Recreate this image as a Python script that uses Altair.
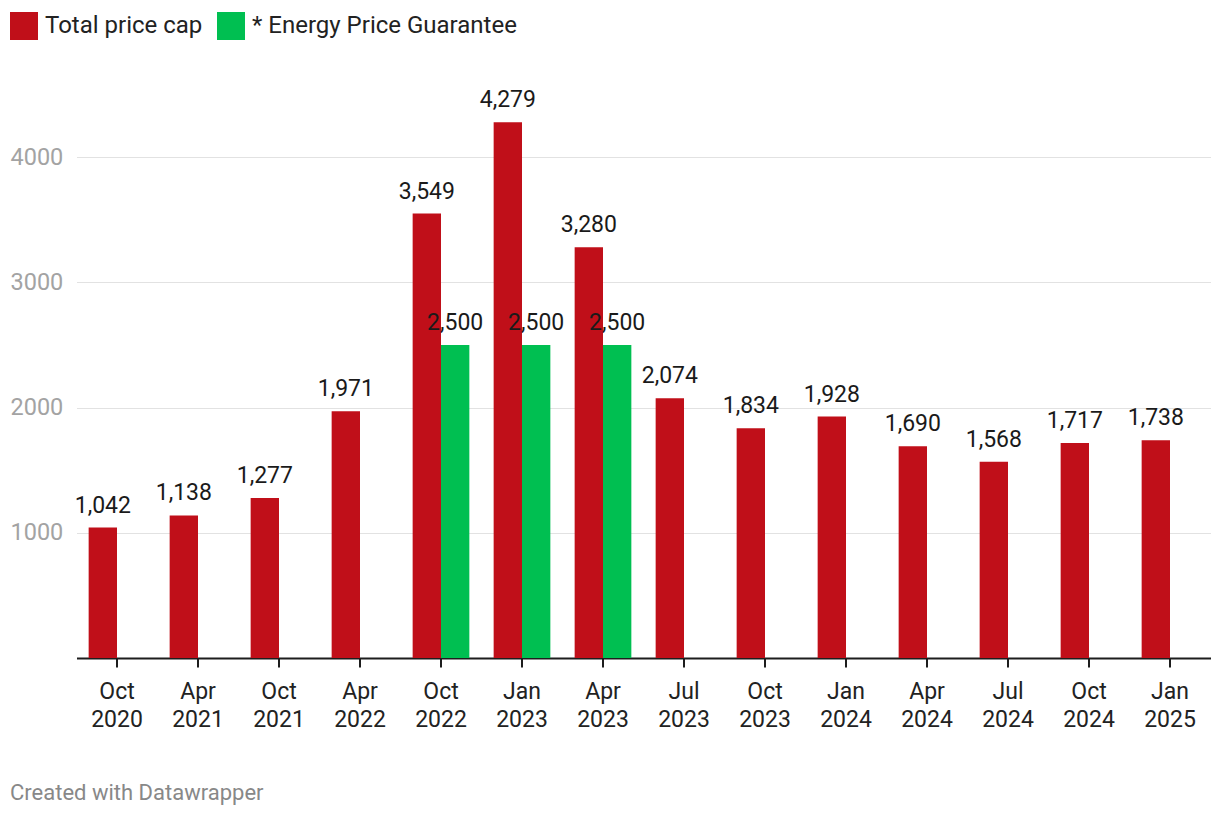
import altair as alt
import pandas as pd

periods = ["Oct 2020", "Apr 2021", "Oct 2021", "Apr 2022", "Oct 2022", "Jan 2023", "Apr 2023",
           "Jul 2023", "Oct 2023", "Jan 2024", "Apr 2024", "Jul 2024", "Oct 2024", "Jan 2025"]
price_cap = [1042, 1138, 1277, 1971, 3549, 4279, 3280, 2074, 1834, 1928, 1690, 1568, 1717, 1738]
epg_periods = ["Oct 2022", "Jan 2023", "Apr 2023"]
epg_values = [2500, 2500, 2500]
series = ["Total price cap", "* Energy Price Guarantee"]
colors = ["#c00f19", "#00bf51"]
y_ticks = [1000, 2000, 3000, 4000]

rows = [{"period": p, "series": series[0], "value": v} for p, v in zip(periods, price_cap)]
rows += [{"period": p, "series": series[1], "value": v} for p, v in zip(epg_periods, epg_values)]
df = pd.DataFrame(rows)

FONT = "Roboto"

x_enc = alt.X("period:N", sort=periods,
              scale=alt.Scale(domain=periods, paddingInner=0.3, paddingOuter=0.15),
              axis=alt.Axis(title=None, labelAngle=0, labelExpr="split(datum.label, ' ')",
                            labelFontSize=23, labelColor="#222222", labelFont=FONT,
                            labelLineHeight=28, labelPadding=13, tickSize=9, tickWidth=2,
                            tickColor="#1d1d1d", domainColor="#1d1d1d", domainWidth=2,
                            grid=False))
xo_enc = alt.XOffset("series:N", scale=alt.Scale(domain=series))
y_enc = alt.Y("value:Q", scale=alt.Scale(domain=[0, 4400], nice=False),
              axis=alt.Axis(title=None, values=y_ticks, format="d", labelAlign="left",
                            labelPadding=66.5, labelFontSize=23.5, labelColor="#a3a3a3",
                            labelFont=FONT, ticks=False, domain=False, grid=True,
                            gridColor="#e2e2e2", gridWidth=1, labelBaseline="middle"))

bars = alt.Chart(df).mark_bar().encode(
    x=x_enc,
    xOffset=xo_enc,
    y=y_enc,
    color=alt.Color("series:N", scale=alt.Scale(domain=series, range=colors),
                    legend=alt.Legend(title=None, orient="none", legendX=-66.5, legendY=-95,
                                      direction="horizontal", symbolType="square",
                                      symbolSize=784, symbolStrokeWidth=0, symbolOpacity=1,
                                      labelFontSize=24, labelFont=FONT, labelColor="#222222",
                                      labelOffset=7, columnPadding=14, labelLimit=0)),
)

labels = alt.Chart(df).mark_text(baseline="alphabetic", dy=-15, fontSize=23, font=FONT,
                                 color="#1a1a1a").encode(
    x=alt.X("period:N", sort=periods),
    xOffset=alt.XOffset("series:N"),
    y="value:Q",
    text=alt.Text("value:Q", format=",.0f"),
)

chart = alt.layer(bars, labels).properties(
    width=1134, height=551,
    autosize=alt.AutoSizeParams(type="none"),
    padding={"left": 68.5, "top": 99, "right": 1, "bottom": 150},
    title=alt.TitleParams("Created with Datawrapper", orient="bottom", anchor="start",
                          offset=52, fontSize=22, font=FONT, fontWeight="normal",
                          color="#888888"),
).configure_view(stroke=None)

chart.save("out.html", embed_options={"renderer": "svg", "actions": False})
